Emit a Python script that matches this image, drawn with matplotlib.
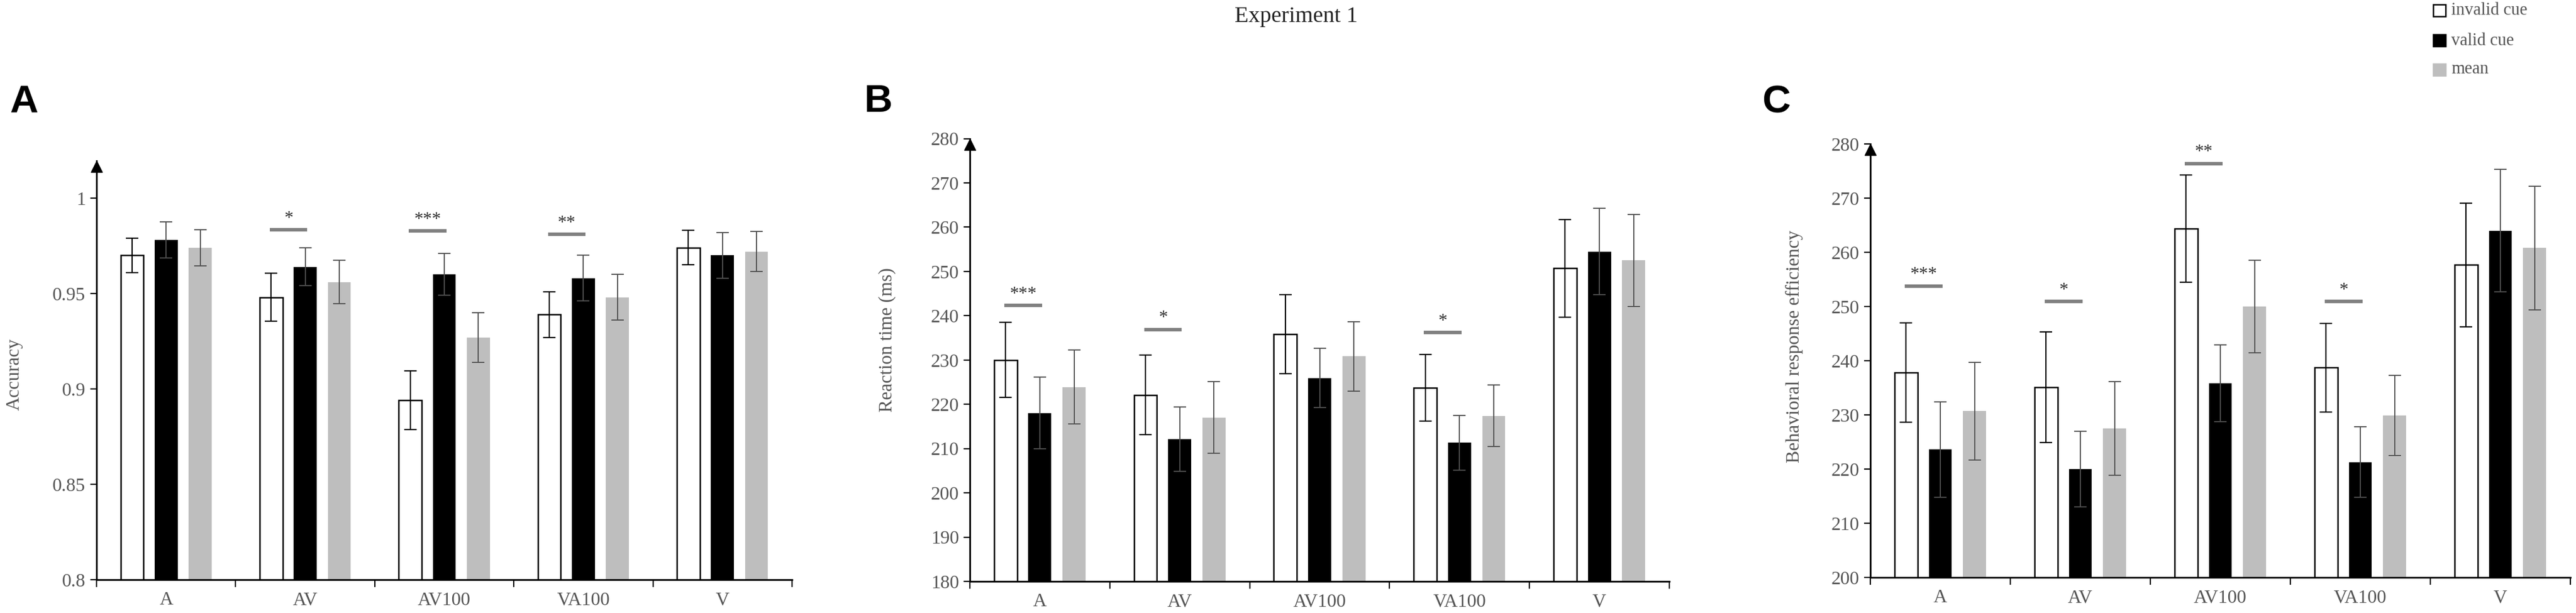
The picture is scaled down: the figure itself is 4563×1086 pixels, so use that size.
import numpy as np
import matplotlib
matplotlib.use('Agg')
import matplotlib.pyplot as plt
from matplotlib.patches import Rectangle
from matplotlib.transforms import offset_copy

plt.rcParams['font.family'] = ['Liberation Serif', 'DejaVu Serif']

# 数据：五种条件
conditions = ['A', 'AV', 'AV100', 'VA100', 'V']

acc_invalid = [0.970, 0.948, 0.894, 0.939, 0.974]
acc_invalid_err = [0.009, 0.0125, 0.0154, 0.012, 0.009]
acc_valid = [0.978, 0.964, 0.960, 0.958, 0.970]
acc_valid_err = [0.0095, 0.010, 0.011, 0.012, 0.012]
acc_mean = [0.974, 0.956, 0.927, 0.948, 0.972]
acc_mean_err = [0.0094, 0.0114, 0.013, 0.012, 0.0104]

rt_invalid = [230.0, 222.1, 235.8, 223.7, 250.7]
rt_invalid_err = [8.5, 9.0, 8.9, 7.5, 11.0]
rt_valid = [218.0, 212.1, 225.9, 211.3, 254.5]
rt_valid_err = [8.1, 7.3, 6.7, 6.2, 9.8]
rt_mean = [223.9, 217.0, 230.8, 217.4, 252.5]
rt_mean_err = [8.3, 8.1, 7.8, 6.9, 10.4]

bre_invalid = [237.8, 235.1, 264.4, 238.7, 257.7]
bre_invalid_err = [9.2, 10.2, 9.9, 8.2, 11.4]
bre_valid = [223.6, 220.0, 235.8, 221.3, 264.0]
bre_valid_err = [8.8, 7.0, 7.1, 6.5, 11.3]
bre_mean = [230.7, 227.5, 250.0, 229.9, 260.8]
bre_mean_err = [9.0, 8.6, 8.5, 7.4, 11.4]

# 显著性标记：(条件序号, 高度, 星号)
acc_sig = [(1, 0.9834, '*'), (2, 0.9828, '***'), (3, 0.9809, '**')]
rt_sig = [(0, 242.3, '***'), (1, 236.9, '*'), (3, 236.2, '*')]
bre_sig = [(0, 253.8, '***'), (1, 250.9, '*'), (2, 276.4, '**'), (3, 250.9, '*')]

acc_ticks = [0.8, 0.85, 0.9, 0.95, 1.0]
acc_ticklabels = ['0.8', '0.85', '0.9', '0.95', '1']
rt_ticks = [180, 190, 200, 210, 220, 230, 240, 250, 260, 270, 280]
bre_ticks = [200, 210, 220, 230, 240, 250, 260, 270, 280]

W, H = 4563, 1086
fig = plt.figure(figsize=(W / 100, H / 100), dpi=100)

gray_text = '#555555'
offset = 0.245
width = 0.165


def px_axes(left, right, bottom, top):
    return fig.add_axes([left / W, 1 - bottom / H, (right - left) / W, (bottom - top) / H])


def draw_panel(ax, invalid, inv_err, valid, val_err, mean, mean_err,
               ylim, yticks, yticklabels, sig):
    x = np.arange(len(conditions)) + 0.5
    ax.bar(x - offset, invalid, width, color='white', edgecolor='black', linewidth=1.8,
           yerr=inv_err, error_kw=dict(ecolor='black', elinewidth=1.6, capsize=8, capthick=1.6),
           zorder=2)
    ax.bar(x, valid, width, color='black', linewidth=0,
           yerr=val_err, error_kw=dict(ecolor='#505050', elinewidth=1.4, capsize=8, capthick=1.4),
           zorder=2)
    ax.bar(x + offset, mean, width, color='#bebebe', linewidth=0,
           yerr=mean_err, error_kw=dict(ecolor='#505050', elinewidth=1.4, capsize=8, capthick=1.4),
           zorder=2)

    for i, h, stars in sig:
        cx = i + 0.5 - 0.12
        ax.plot([cx - 0.135, cx + 0.135], [h, h], color='#808080', linewidth=4.5,
                solid_capstyle='butt', zorder=3)
        ax.annotate(stars, (cx, h), xytext=(0, 9), textcoords='offset points',
                    ha='center', va='baseline', fontsize=23, color='#333333')

    ax.set_xlim(0, len(conditions))
    ax.set_ylim(*ylim)
    ax.set_xticks(np.arange(len(conditions) + 1))
    ax.set_xticklabels([])
    ax.set_xticks(x, minor=True)
    ax.set_xticklabels(conditions, minor=True, fontsize=24, color=gray_text)
    ax.set_yticks(yticks)
    ax.set_yticklabels(yticklabels, fontsize=24, color=gray_text)
    ax.tick_params(axis='x', which='major', direction='out', length=9, width=1.6)
    ax.tick_params(axis='x', which='minor', length=0, pad=15)
    ax.tick_params(axis='y', direction='out', length=8, width=1.6, pad=6)
    for s in ['top', 'right']:
        ax.spines[s].set_visible(False)
    for s in ['left', 'bottom']:
        ax.spines[s].set_linewidth(2.2)
    # 坐标轴顶端的箭头
    tr = offset_copy(ax.transAxes, fig=fig, y=-7.5, units='points')
    ax.plot([0], [1], marker='^', markersize=15, color='black', transform=tr,
            clip_on=False, zorder=5)


ax_a = px_axes(171, 1403, 1027, 285)
draw_panel(ax_a, acc_invalid, acc_invalid_err, acc_valid, acc_valid_err, acc_mean, acc_mean_err,
           (0.8, 1.0195), acc_ticks, acc_ticklabels, acc_sig)

ax_b = px_axes(1718, 2957, 1030, 245.5)
draw_panel(ax_b, rt_invalid, rt_invalid_err, rt_valid, rt_valid_err, rt_mean, rt_mean_err,
           (180, 280), rt_ticks, [str(t) for t in rt_ticks], rt_sig)

ax_c = px_axes(3313, 4553, 1023, 255)
draw_panel(ax_c, bre_invalid, bre_invalid_err, bre_valid, bre_valid_err, bre_mean, bre_mean_err,
           (200, 280), bre_ticks, [str(t) for t in bre_ticks], bre_sig)

# 纵轴标题
for xp, yp, label in [(25, 663, 'Accuracy'), (1572, 602, 'Reaction time (ms)'),
                      (3178, 614, 'Behavioral response efficiency')]:
    fig.text(xp / W, 1 - yp / H, label, rotation=90, ha='center', va='center',
             fontsize=24, color=gray_text)

# 面板字母
for xp, yp, letter in [(42, 181, 'A'), (1555, 180, 'B'), (3146, 181, 'C')]:
    fig.text(xp / W, 1 - yp / H, letter, ha='center', va='center', fontsize=50,
             fontweight='bold', family=['Liberation Sans', 'DejaVu Sans'], color='black')

fig.text(2296 / W, 1 - 30 / H, 'Experiment 1', ha='center', va='center', fontsize=29,
         color='#222222')

# 图例
legend_items = [('invalid cue', 'white', 'black', 18.5),
                ('valid cue', 'black', 'black', 72),
                ('mean', '#bebebe', '#bebebe', 123)]
for label, fc, ec, yc in legend_items:
    fig.add_artist(Rectangle((4310 / W, 1 - (yc + 10.5) / H), 22 / W, 21 / H,
                             facecolor=fc, edgecolor=ec, linewidth=1.8,
                             transform=fig.transFigure))
    fig.text(4342 / W, 1 - yc / H, label, ha='left', va='center', fontsize=22, color=gray_text)

fig.savefig('out.png', dpi=100)
